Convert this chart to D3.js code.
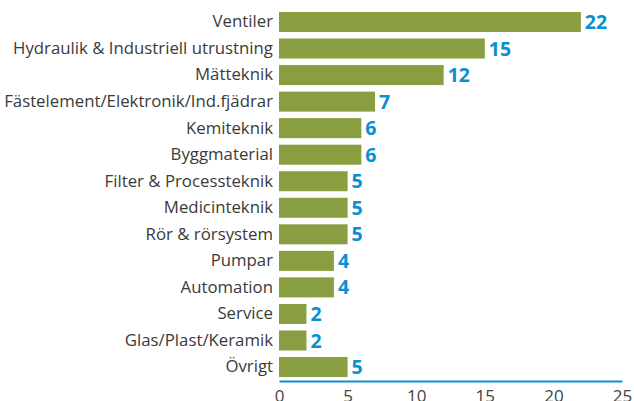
<!DOCTYPE html>
<html>
<head>
<meta charset="utf-8">
<script src="https://cdn.jsdelivr.net/npm/d3@7"></script>
<style>
  html, body { margin: 0; padding: 0; background: #fff; }
  svg { display: block; font-family: "Open Sans", "Noto Sans", sans-serif; }
</style>
</head>
<body>
<svg id="chart" width="634" height="401"></svg>
<script>
const categories = [
  "Ventiler",
  "Hydraulik & Industriell utrustning",
  "Mätteknik",
  "Fästelement/Elektronik/Ind.fjädrar",
  "Kemiteknik",
  "Byggmaterial",
  "Filter & Processteknik",
  "Medicinteknik",
  "Rör & rörsystem",
  "Pumpar",
  "Automation",
  "Service",
  "Glas/Plast/Keramik",
  "Övrigt"
];
const values = [22, 15, 12, 7, 6, 6, 5, 5, 5, 4, 4, 2, 2, 5];
const xTicks = [0, 5, 10, 15, 20, 25];

const svg = d3.select("#chart");
const plotLeft = 279, plotRight = 622;
const plotTop = 8.7, plotBottom = 380.3, axisY = 381;

const x = d3.scaleLinear().domain([0, 25]).range([plotLeft, plotRight]);
const y = d3.scaleBand().domain(categories).range([plotTop, plotBottom])
  .paddingInner(0.246).paddingOuter(0.123);

const barColor = "#889e40";
const blue = "#0a90d2";

// bars
svg.append("g").selectAll("rect")
  .data(categories)
  .join("rect")
  .attr("x", x(0))
  .attr("y", d => y(d))
  .attr("width", (d, i) => x(values[i]) - x(0))
  .attr("height", y.bandwidth())
  .attr("fill", barColor);

// value labels
svg.append("g").selectAll("text")
  .data(categories)
  .join("text")
  .attr("x", (d, i) => x(values[i]) + 4)
  .attr("y", d => y(d) + y.bandwidth() / 2)
  .attr("dy", "0.36em")
  .attr("fill", blue)
  .attr("font-size", 19.5)
  .attr("font-weight", "bold")
  .text((d, i) => values[i]);

// category axis (labels only)
const yAxis = svg.append("g")
  .attr("transform", `translate(${plotLeft},0)`)
  .call(d3.axisLeft(y).tickSize(0).tickPadding(6));
yAxis.select(".domain").remove();
yAxis.selectAll("text")
  .attr("font-size", 16.8)
  .attr("font-family", "'Open Sans', 'Noto Sans', sans-serif")
  .attr("fill", "#3a3a3a");

// value axis
const xAxis = svg.append("g")
  .attr("transform", `translate(0,${axisY})`)
  .call(d3.axisBottom(x).tickValues(xTicks).tickSize(0).tickPadding(9));
xAxis.select(".domain").attr("stroke", blue).attr("stroke-width", 2);
xAxis.selectAll("text")
  .attr("font-size", 17)
  .attr("font-family", "'Open Sans', 'Noto Sans', sans-serif")
  .attr("fill", "#444");
</script>
</body>
</html>
